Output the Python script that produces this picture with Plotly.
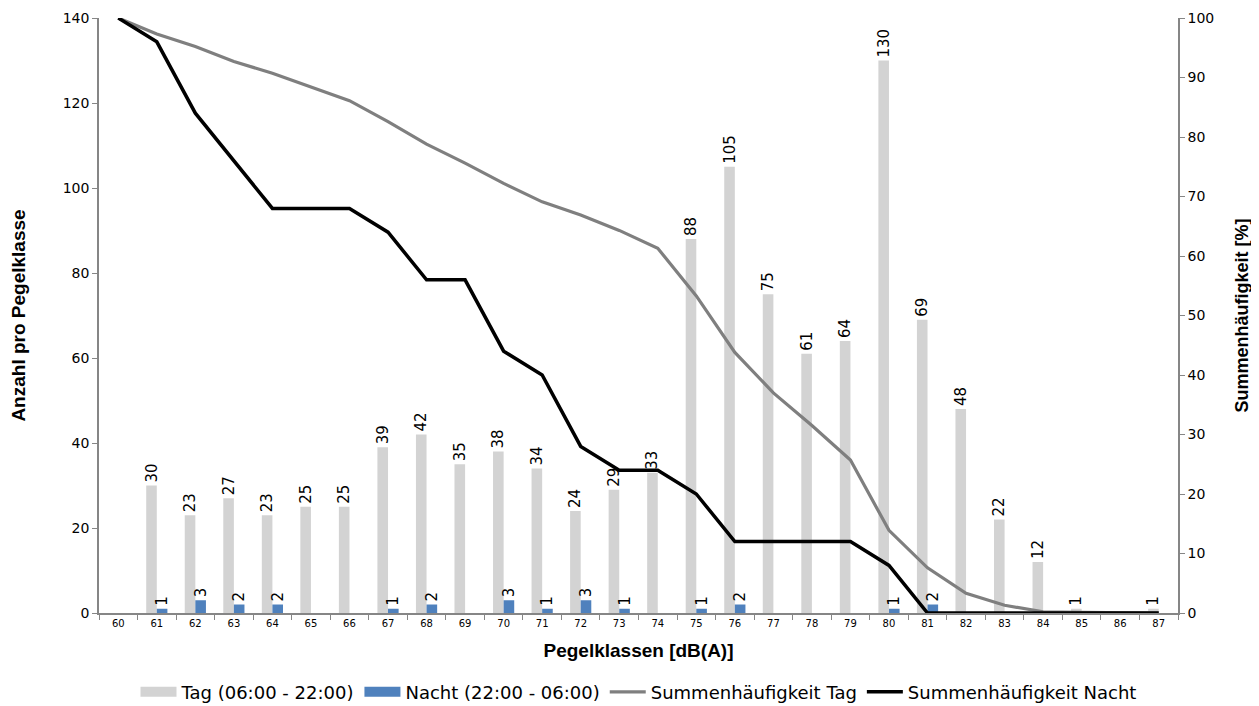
import plotly.graph_objects as go

categories = [str(c) for c in range(60, 88)]
tag_counts = [None, 30, 23, 27, 23, 25, 25, 39, 42, 35, 38, 34, 24, 29, 33,
              88, 105, 75, 61, 64, 130, 69, 48, 22, 12, 1, None, 1]
nacht_counts = [None, 1, 3, 2, 2, None, None, 1, 2, None, 3, 1, 3, 1, None,
                1, 2, None, None, None, 1, 2, None, None, None, None, None, None]
sum_tag = [100, 97.3, 95.2, 92.7, 90.7, 88.4, 86.1, 82.6, 78.8, 75.6, 72.2, 69.1,
           66.9, 64.3, 61.3, 53.3, 43.8, 37.0, 31.5, 25.7, 13.9, 7.6, 3.3, 1.3,
           0.2, 0.1, 0.1, 0]
sum_nacht = [100, 96, 84, 76, 68, 68, 68, 64, 56, 56, 44, 40, 28, 24, 24, 20, 12,
             12, 12, 12, 8, 0, 0, 0, 0, 0, 0, 0]
left_ticks = [0, 20, 40, 60, 80, 100, 120, 140]
right_ticks = [0, 10, 20, 30, 40, 50, 60, 70, 80, 90, 100]

TAG_COLOR = "#D3D3D3"
NACHT_COLOR = "#4F81BD"

label_font = dict(family="DejaVu Sans", size=15, color="#000000")
tick_font = dict(family="DejaVu Sans", size=14, color="#000000")
title_font = dict(family="Liberation Sans", size=19, color="#000000")

fig = go.Figure()
fig.add_trace(go.Bar(
    x=categories, y=tag_counts, name="Tag (06:00 - 22:00)", showlegend=False,
    marker=dict(color=TAG_COLOR, line=dict(width=0)),
    text=[("" if v is None else str(v)) for v in tag_counts],
    textposition="outside", textangle=-90, textfont=label_font,
    constraintext="none", cliponaxis=False,
))
fig.add_trace(go.Bar(
    x=categories, y=nacht_counts, name="Nacht (22:00 - 06:00)", showlegend=False,
    marker=dict(color=NACHT_COLOR, line=dict(width=0)),
    text=[("" if v is None else str(v)) for v in nacht_counts],
    textposition="outside", textangle=-90, textfont=label_font,
    constraintext="none", cliponaxis=False,
))
# legend entries for the bar series (wide rectangle swatches)
fig.add_trace(go.Scatter(
    x=[None], y=[None], name="Tag (06:00 - 22:00)", mode="lines",
    line=dict(color=TAG_COLOR, width=10), hoverinfo="skip",
))
fig.add_trace(go.Scatter(
    x=[None], y=[None], name="Nacht (22:00 - 06:00)", mode="lines",
    line=dict(color=NACHT_COLOR, width=10), hoverinfo="skip",
))
fig.add_trace(go.Scatter(
    x=categories, y=sum_tag, name="Summenhäufigkeit Tag", yaxis="y2",
    mode="lines", line=dict(color="#7F7F7F", width=3.2),
))
fig.add_trace(go.Scatter(
    x=categories, y=sum_nacht, name="Summenhäufigkeit Nacht", yaxis="y2",
    mode="lines", line=dict(color="#000000", width=3.5),
))

fig.update_layout(
    width=1251, height=698,
    margin=dict(l=91, r=81, t=10, b=93, autoexpand=False),
    paper_bgcolor="white", plot_bgcolor="white",
    barmode="group", bargap=0.45, bargroupgap=0,
    showlegend=True,
    legend=dict(orientation="h", x=0.5, xanchor="center", y=-0.133, yanchor="middle",
                font=dict(family="DejaVu Sans", size=18, color="#000000"),
                traceorder="normal", itemwidth=36),
    xaxis=dict(
        type="category", tickson="boundaries", ticks="outside", ticklen=5,
        tickcolor="#868686", showline=True, linecolor="#868686", linewidth=1.5,
        showgrid=False, tickfont=dict(family="DejaVu Sans", size=10, color="#000000"),
        title=dict(text="<b>Pegelklassen [dB(A)]</b>", font=title_font, standoff=16),
        range=[-0.5, 27.5], automargin=False,
    ),
    yaxis=dict(
        range=[0, 140], tickvals=left_ticks, ticks="outside", ticklen=5,
        tickcolor="#868686", showline=True, linecolor="#868686", linewidth=1.5,
        showgrid=False, zeroline=False, tickfont=tick_font, automargin=False,
        title=dict(text="<b>Anzahl pro Pegelklasse</b>", font=title_font, standoff=34),
    ),
    yaxis2=dict(
        range=[0, 100], tickvals=right_ticks, overlaying="y", side="right",
        ticks="outside", ticklen=5, tickcolor="#868686", showline=True,
        linecolor="#868686", linewidth=1.5, showgrid=False, zeroline=False,
        tickfont=tick_font, automargin=False,
        title=dict(text="<b>Summenhäufigkeit [%]</b>", font=dict(family="Liberation Sans", size=18, color="#000000"), standoff=22),
    ),
)

fig.write_html("out.html")
